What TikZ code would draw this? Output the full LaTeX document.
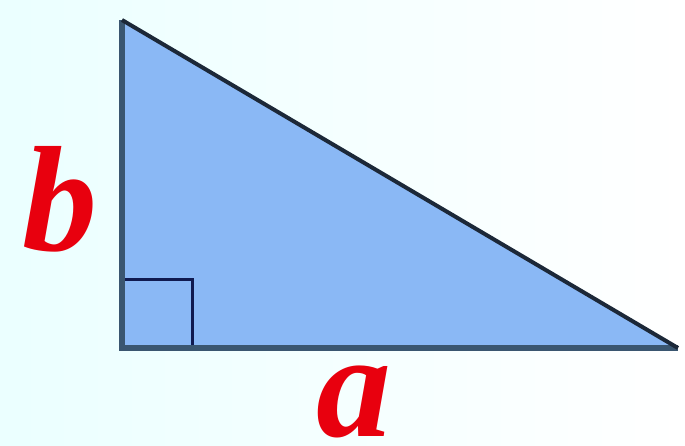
\documentclass[tikz,border=0pt]{standalone}
\usepackage{fontspec}
\setmainfont{Liberation Serif}
\begin{document}
\begin{tikzpicture}[x=1pt,y=-1pt,
  lab/.style={text=labred, font=\fontsize{150}{150}\selectfont\bfseries\itshape, inner sep=0pt, anchor=base, text depth=0pt}]
\definecolor{labred}{HTML}{E8000E}
\useasboundingbox (0,0) rectangle (685,445);
\shade[left color=cyan!8, right color=white] (0,0) rectangle (685,445);
\definecolor{tfill}{HTML}{8AB8F5}
\definecolor{legc}{HTML}{3A5670}
\definecolor{hypc}{HTML}{1C2838}
\definecolor{sqc}{HTML}{101A50}
\coordinate (A) at (122,20);
\coordinate (C) at (122,348);
\coordinate (B) at (678,348);
\fill[tfill] (A) -- (C) -- (B) -- cycle;
\draw[sqc, line width=3] (122,279) -- (192,279) -- (192,348);
\draw[legc, line width=6] (A) -- (C) -- (B);
\draw[hypc, line width=4] (A) -- (B);
\node[lab] (b) at (60,250) {b};
\node[lab] (a) at (354,436) {a};
\end{tikzpicture}
\end{document}
